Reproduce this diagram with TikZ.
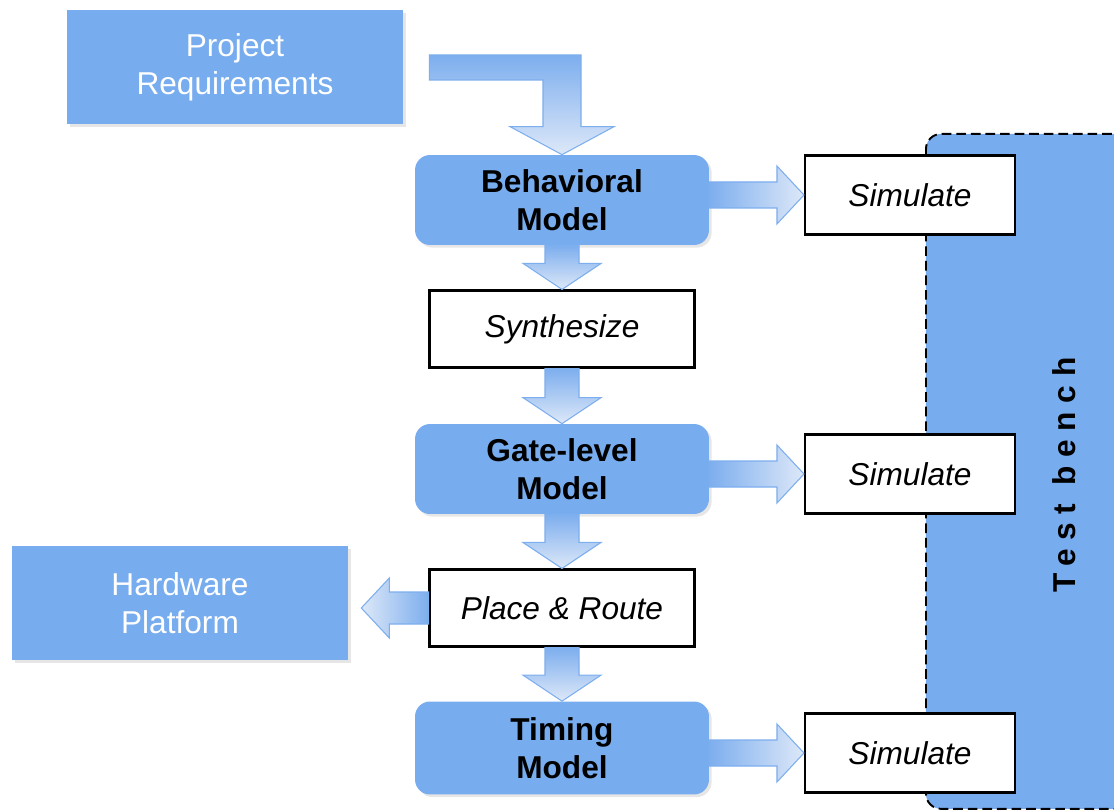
\documentclass[tikz,border=0pt]{standalone}
\usepackage{fontspec}
\setmainfont{Liberation Sans}
\usepackage{xcolor}
\usepackage{tikz}
\usetikzlibrary{arrows.meta,calc,positioning,shadows}

\definecolor{boxblue}{HTML}{77ACEE}
\definecolor{arrowblue}{HTML}{7DAEEE}
\definecolor{arrowpale}{HTML}{DDE8F8}

% block arrow between two stacked nodes
\newcommand{\dnarrow}[2]{%
  \path[barrow, top color=arrowblue, bottom color=arrowpale]
    ($(#1.south)+(-17,0)$) -- ($(#1.south)+(17,0)$)
    -- ($(#2.north)+(17,26)$) -- ($(#2.north)+(39,26)$)
    -- (#2.north)
    -- ($(#2.north)+(-39,26)$) -- ($(#2.north)+(-17,26)$) -- cycle;}
% block arrow from a model into its Simulate box
\newcommand{\rtarrow}[2]{%
  \path[barrow, left color=arrowblue, right color=arrowpale]
    ($(#1.east |- #2.west)+(0,13)$) -- ($(#2.west)+(-27,13)$)
    -- ($(#2.west)+(-27,29)$) -- (#2.west) -- ($(#2.west)+(-27,-29)$)
    -- ($(#2.west)+(-27,-13)$) -- ($(#1.east |- #2.west)+(0,-13)$) -- cycle;}

\begin{document}
\begin{tikzpicture}[
    x=0.02cm, y=0.02cm,
    font=\fontsize{18}{21.5}\selectfont,
    inbox/.style={
      fill=boxblue, text=white,
      minimum width=6.72cm, minimum height=2.28cm,
      align=center,
      drop shadow={opacity=0.2, shadow xshift=1.5pt, shadow yshift=-1.5pt}
    },
    model/.style={
      fill=boxblue, rounded corners=0.3cm,
      minimum width=5.88cm, minimum height=1.8cm,
      font=\fontsize{18}{21.5}\selectfont\bfseries, align=center,
      drop shadow={opacity=0.2, shadow xshift=1.5pt, shadow yshift=-1.5pt}
    },
    stepbox/.style={
      draw=black, line width=1.2pt, fill=white,
      minimum width=5.3cm, minimum height=1.54cm,
      font=\fontsize{18}{21.5}\selectfont\itshape
    },
    simbox/.style={
      draw=black, line width=1.2pt, fill=white,
      minimum width=4.2cm, minimum height=1.58cm,
      font=\fontsize{18}{21.5}\selectfont\itshape
    },
    bench/.style={
      draw=black, dash pattern=on 5.5pt off 2.8pt, line width=1.1pt,
      fill=boxblue, rounded corners=0.3cm,
      minimum width=4.6cm, minimum height=13.5cm
    },
    barrow/.style={draw=arrowblue, line width=0.6pt}
  ]

  \clip (0,0) rectangle (1114,-810);

  % Test bench
  \node[bench, anchor=north west] (tb) at (925,-133) {};
  \node[rotate=90, font=\fontsize{18}{21.5}\selectfont\bfseries\addfontfeature{LetterSpace=28}]
    (tbl) at (1064,-475) {Test bench};

  % Nodes
  \node[inbox] (req) at (235,-67) {Project\\Requirements};
  \node[model] (beh) at (562,-200) {Behavioral\\Model};
  \node[stepbox] (syn) at (562,-329) {Synthesize};
  \node[model] (gate) at (562,-469) {Gate-level\\Model};
  \node[stepbox] (pr) at (562,-608) {Place \& Route};
  \node[model, minimum height=1.86cm] (tim) at (562,-748) {Timing\\Model};
  \node[inbox] (hw) at (180,-603) {Hardware\\Platform};

  \node[simbox] (simA) at (910,-195) {Simulate};
  \node[simbox] (simB) at (910,-474) {Simulate};
  \node[simbox] (simC) at (910,-753) {Simulate};

  % Bent arrow from the requirements
  \path[barrow, top color=arrowblue, bottom color=arrowpale]
    ($(req.east)+(26,12)$) -- ($(req.east -| beh.north)+(19,12)$)
    -- ($(beh.north)+(19,28)$) -- ($(beh.north)+(52,28)$)
    -- (beh.north)
    -- ($(beh.north)+(-52,28)$) -- ($(beh.north)+(-19,28)$)
    -- ($(req.east -| beh.north)+(-19,-13)$) -- ($(req.east)+(26,-13)$) -- cycle;

  % Flow down
  \dnarrow{beh}{syn}
  \dnarrow{syn}{gate}
  \dnarrow{gate}{pr}
  \dnarrow{pr}{tim}

  % Into the simulations
  \rtarrow{beh}{simA}
  \rtarrow{gate}{simB}
  \rtarrow{tim}{simC}

  % Out to the hardware
  \coordinate (hwtip) at ($(pr.west -| hw.east)+(13,0)$);
  \path[barrow, right color=arrowblue, left color=arrowpale]
    ($(pr.west)+(0,16)$) -- ($(hwtip)+(28,16)$) -- ($(hwtip)+(28,30)$)
    -- (hwtip) -- ($(hwtip)+(28,-30)$) -- ($(hwtip)+(28,-16)$)
    -- ($(pr.west)+(0,-16)$) -- cycle;

\end{tikzpicture}
\end{document}
